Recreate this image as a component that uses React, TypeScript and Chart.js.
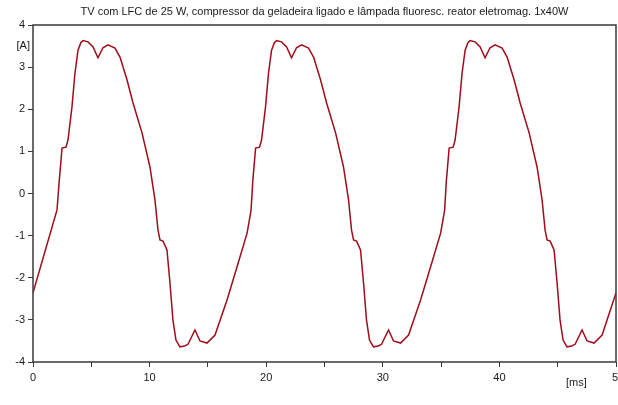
import React, { useEffect, useRef } from "react";
import { Chart, registerables } from "chart.js";

Chart.register(...registerables);

const TITLE = "TV com LFC de 25 W, compressor da geladeira ligado e lâmpada fluoresc. reator eletromag. 1x40W";
const Y_UNIT = "[A]";
const X_UNIT = "[ms]";
const X_TICK_VALUES = [0, 10, 20, 30, 40, 50];
const X_TICK_LABELS = ["0", "10", "20", "30", "40", "50"];
const Y_TICK_VALUES = [4, 3, 2, 1, 0, -1, -2, -3, -4];
const Y_TICK_LABELS = ["4", "3", "2", "1", "0", "-1", "-2", "-3", "-4"];

// time in ms
const timeMs = [
  0, 1.0, 2.06, 2.25, 2.35, 2.49, 2.83, 3.0, 3.34, 3.6, 3.86, 4.1, 4.29, 4.72, 5.15, 5.57, 6.0, 6.43, 7.03, 7.46,
  8.06, 8.58, 9.35, 10.03, 10.46, 10.72, 10.89, 11.15, 11.49, 11.75, 12.0, 12.26, 12.6, 13.0, 13.29, 13.89, 14.32,
  14.92, 15.61, 16.64, 17.5, 18.36, 18.7,
  18.85, 18.95, 19.09, 19.43, 19.6, 19.94, 20.2, 20.46, 20.7, 20.89, 21.32, 21.75, 22.17, 22.6, 23.03, 23.63, 24.06,
  24.66, 25.18, 25.95, 26.63, 27.06, 27.32, 27.49, 27.75, 28.09, 28.35, 28.6, 28.86, 29.2, 29.6, 29.89, 30.49, 30.92,
  31.52, 32.21, 33.24, 34.1, 34.96, 35.3,
  35.45, 35.55, 35.69, 36.03, 36.2, 36.54, 36.8, 37.06, 37.3, 37.49, 37.92, 38.35, 38.77, 39.2, 39.63, 40.23, 40.66,
  41.26, 41.78, 42.55, 43.23, 43.66, 43.92, 44.09, 44.35, 44.69, 44.95, 45.2, 45.46, 45.8, 46.2, 46.49, 47.09, 47.52,
  48.12, 48.81, 50.0,
];

// current in A
const currentA = [
  -2.36, -1.4, -0.39, 0.3, 0.62, 1.08, 1.1, 1.27, 2.05, 2.86, 3.4, 3.58, 3.63, 3.6, 3.48, 3.22, 3.46, 3.53, 3.45, 3.24,
  2.7, 2.15, 1.44, 0.63, -0.15, -0.87, -1.1, -1.13, -1.34, -2.13, -3.0, -3.48, -3.64, -3.62, -3.58, -3.24, -3.5,
  -3.55, -3.36, -2.53, -1.74, -0.94, -0.4,
  0.3, 0.62, 1.08, 1.1, 1.27, 2.05, 2.86, 3.4, 3.58, 3.63, 3.6, 3.48, 3.22, 3.46, 3.53, 3.45, 3.24,
  2.7, 2.15, 1.44, 0.63, -0.15, -0.87, -1.1, -1.13, -1.34, -2.13, -3.0, -3.48, -3.64, -3.62, -3.58, -3.24, -3.5,
  -3.55, -3.36, -2.53, -1.74, -0.94, -0.4,
  0.3, 0.62, 1.08, 1.1, 1.27, 2.05, 2.86, 3.4, 3.58, 3.63, 3.6, 3.48, 3.22, 3.46, 3.53, 3.45, 3.24,
  2.7, 2.15, 1.44, 0.63, -0.15, -0.87, -1.1, -1.13, -1.34, -2.13, -3.0, -3.48, -3.64, -3.62, -3.58, -3.24, -3.5,
  -3.55, -3.36, -2.36,
];

const FONT = "11px 'Liberation Sans', Arial, sans-serif";
const TEXT_COLOR = "#1a1a1a";
const AXIS_COLOR = "#3a3a3a";
const LINE_COLOR = "#a00c1a";

const decorPlugin = {
  id: "decor",
  afterDraw(chart: any) {
    const { ctx, chartArea, scales } = chart;
    const xs = scales.x;
    const ys = scales.y;
    ctx.save();
    // frame
    ctx.strokeStyle = AXIS_COLOR;
    ctx.lineWidth = 1.5;
    ctx.strokeRect(chartArea.left, chartArea.top, chartArea.right - chartArea.left, chartArea.bottom - chartArea.top);

    ctx.fillStyle = TEXT_COLOR;
    ctx.font = FONT;
    // title
    ctx.textAlign = "center";
    ctx.textBaseline = "middle";
    ctx.fillText(TITLE, (chartArea.left + chartArea.right) / 2, 12);

    // y tick labels
    ctx.textAlign = "right";
    Y_TICK_VALUES.forEach((v, i) => {
      ctx.fillText(Y_TICK_LABELS[i], chartArea.left - 8, ys.getPixelForValue(v));
    });
    ctx.fillText(Y_UNIT, chartArea.left - 3, (ys.getPixelForValue(4) + ys.getPixelForValue(3)) / 2);

    // x tick labels
    ctx.textAlign = "center";
    ctx.textBaseline = "top";
    X_TICK_VALUES.forEach((v, i) => {
      const px = xs.getPixelForValue(v) + (i === X_TICK_VALUES.length - 1 ? 2 : 0);
      ctx.fillText(X_TICK_LABELS[i], px, chartArea.bottom + 10);
    });
    ctx.fillText(X_UNIT, xs.getPixelForValue(46.6), chartArea.bottom + 15);
    ctx.restore();
  },
};

export default function App() {
  const canvasRef = useRef<HTMLCanvasElement>(null);

  useEffect(() => {
    if (!canvasRef.current) return;
    const points = timeMs.map((t, i) => ({ x: t, y: currentA[i] }));
    const chart = new Chart(canvasRef.current, {
      type: "scatter",
      data: {
        datasets: [
          {
            data: points,
            showLine: true,
            borderColor: LINE_COLOR,
            borderWidth: 1.5,
            pointRadius: 0,
            tension: 0,
          },
        ],
      },
      options: {
        animation: false,
        responsive: false,
        events: [],
        layout: { padding: { top: 25, right: 2, left: 0, bottom: 0 } },
        plugins: { legend: { display: false }, title: { display: false }, tooltip: { enabled: false } },
        scales: {
          x: {
            type: "linear",
            min: 0,
            max: 50,
            ticks: { display: false, stepSize: 5 },
            grid: { drawOnChartArea: false, drawTicks: true, tickLength: 5, color: AXIS_COLOR, lineWidth: 1 },
            border: { display: false },
            afterFit: (s: any) => {
              s.height = 43;
            },
          },
          y: {
            type: "linear",
            min: -4,
            max: 4,
            ticks: { display: false, stepSize: 1 },
            grid: { drawOnChartArea: false, drawTicks: true, tickLength: 5, color: AXIS_COLOR, lineWidth: 1 },
            border: { display: false },
            afterFit: (s: any) => {
              s.width = 33;
            },
          },
        },
      },
      plugins: [decorPlugin],
    });
    return () => chart.destroy();
  }, []);

  return (
    <div style={{ position: "fixed", left: 0, top: 0, width: 618, height: 405, background: "#fff" }}>
      <canvas ref={canvasRef} width={618} height={405} style={{ display: "block" }} />
    </div>
  );
}
